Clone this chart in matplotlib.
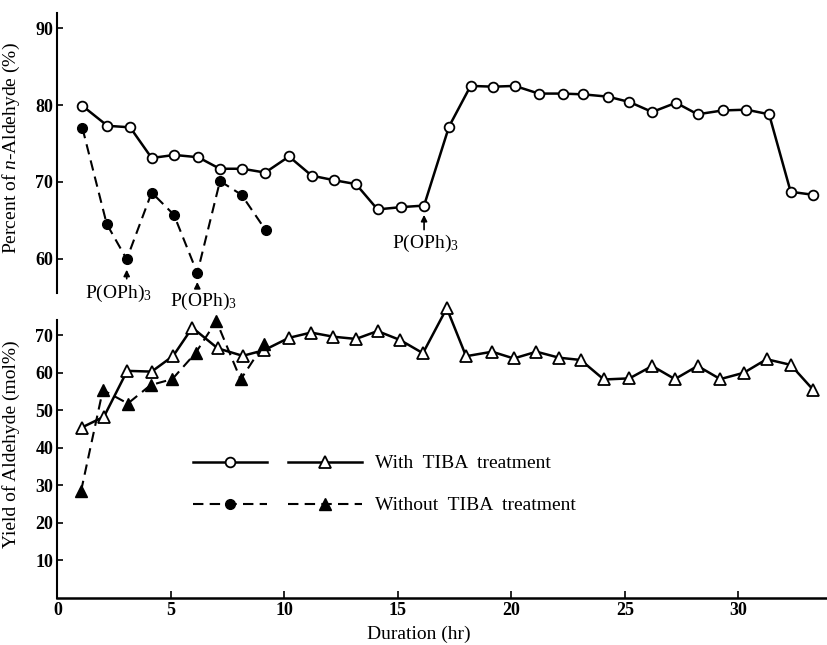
import matplotlib
matplotlib.use("Agg")
import matplotlib.pyplot as plt
from matplotlib.legend_handler import HandlerTuple

plt.rcParams['font.family'] = ['Liberation Serif', 'DejaVu Serif']
plt.rcParams['mathtext.fontset'] = 'custom'
plt.rcParams['mathtext.rm'] = 'Liberation Serif'
plt.rcParams['mathtext.it'] = 'Liberation Serif:italic'

# ---- data ----
# percent of n-aldehyde, with TIBA treatment (open circles)
hr_with = [1.1, 2.2, 3.2, 4.15, 5.15, 6.2, 7.15, 8.15, 9.15, 10.2, 11.2, 12.2, 13.15,
           14.1, 15.15, 16.15, 17.25, 18.2, 19.2, 20.15, 21.2, 22.25, 23.15, 24.25,
           25.2, 26.2, 27.25, 28.2, 29.3, 30.35, 31.35, 32.3, 33.3]
pct_with = [79.9, 77.3, 77.1, 73.1, 73.5, 73.2, 71.7, 71.7, 71.2, 73.3, 70.8, 70.2, 69.7,
            66.4, 66.7, 66.9, 77.2, 82.5, 82.4, 82.5, 81.5, 81.5, 81.4, 81.1,
            80.4, 79.1, 80.3, 78.8, 79.3, 79.4, 78.8, 68.7, 68.3]
# yield of aldehyde, with TIBA treatment (open triangles)
hr_with_y = [1.07, 2.05, 3.07, 4.15, 5.1, 5.94, 7.06, 8.16, 9.1, 10.2, 11.17, 12.15, 13.15,
             14.1, 15.1, 16.1, 17.15, 18.0, 19.15, 20.1, 21.1, 22.1, 23.05, 24.07,
             25.2, 26.2, 27.2, 28.2, 29.2, 30.24, 31.24, 32.3, 33.3]
yld_with = [45.4, 48.3, 60.5, 60.3, 64.5, 72.0, 66.5, 64.5, 66.0, 69.3, 70.7, 69.6, 69.0,
            71.1, 68.7, 65.2, 77.2, 64.4, 65.6, 63.8, 65.6, 64.0, 63.4, 58.2,
            58.5, 61.8, 58.3, 61.8, 58.3, 60.0, 63.6, 62.1, 55.4]

# without TIBA treatment (filled markers)
hr_wo = [1.1, 2.17, 3.05, 4.15, 5.13, 6.16, 7.16, 8.11, 9.17]
pct_wo = [77.0, 64.5, 59.9, 68.6, 65.7, 58.1, 70.1, 68.3, 63.7]
hr_wo_y = [1.04, 2.0, 3.1, 4.1, 5.06, 6.09, 7.0, 8.07, 9.1]
yld_wo = [28.5, 55.4, 51.8, 56.7, 58.3, 65.3, 73.8, 58.2, 67.7]

# P(OPh)3 additions: (hour, arrow head, arrow tail, text x, text y)
additions = [(3.05, 58.9, 57.0, 2.68, 55.45),
             (6.16, 57.3, 55.9, 6.42, 54.35),
             (16.15, 66.05, 63.4, 16.19, 62.0)]

fig = plt.figure(figsize=(8.28, 6.45), dpi=100)
ax1 = fig.add_axes([0.0694, 0.5457, 0.928, 0.4341])
ax2 = fig.add_axes([0.0694, 0.0729, 0.928, 0.4310], sharex=ax1)

solid = dict(color='black', lw=1.8, clip_on=False)
dashed = dict(color='black', lw=1.5, ls=(0, (5, 3)), clip_on=False)

c_open, = ax1.plot(hr_with, pct_with, marker='o', ms=7, mfc='white', mec='black', mew=1.3, **solid)
c_fill, = ax1.plot(hr_wo, pct_wo, marker='o', ms=7, mfc='black', mec='black', **dashed)
t_open, = ax2.plot(hr_with_y, yld_with, marker='^', ms=8, mfc='white', mec='black', mew=1.3, **solid)
t_fill, = ax2.plot(hr_wo_y, yld_wo, marker='^', ms=8, mfc='black', mec='black', **dashed)

for hx, head, tail, tx, ty in additions:
    ax1.annotate('', xy=(hx, head), xytext=(hx, tail),
                 arrowprops=dict(arrowstyle='-|>', color='black', lw=1.2, mutation_scale=9),
                 annotation_clip=False)
    ax1.text(tx, ty, r'P(OPh)$_3$', ha='center', va='center', fontsize=14, clip_on=False)

ax1.set_xlim(0, 33.85)
ax1.set_ylim(55.5, 92.0)
ax2.set_ylim(0, 74.05)

for ax in (ax1, ax2):
    ax.spines['top'].set_visible(False)
    ax.spines['right'].set_visible(False)
    ax.spines['left'].set_linewidth(1.5)
    ax.tick_params(axis='y', direction='in', length=4, width=1.2, pad=3, labelsize=13)
ax1.spines['bottom'].set_visible(False)
ax1.tick_params(axis='x', bottom=False, labelbottom=False)
ax2.spines['bottom'].set_linewidth(1.8)

ax1.set_yticks([60, 70, 80, 90])
ax2.set_yticks([10, 20, 30, 40, 50, 60, 70])
ax2.set_xticks([0, 5, 10, 15, 20, 25, 30])
ax2.tick_params(axis='x', direction='in', length=5, width=1.2, pad=3, labelsize=13)
for ax in (ax1, ax2):
    for lab in ax.get_yticklabels() + ax.get_xticklabels():
        lab.set_fontweight('bold')

ax1.set_ylabel(r'Percent of $\it{n}$-Aldehyde (%)', fontsize=14)
ax1.yaxis.set_label_coords(-0.046, 0.516)
ax2.set_ylabel('Yield of Aldehyde (mol%)', fontsize=14)
ax2.yaxis.set_label_coords(-0.049, 0.554)
ax2.set_xlabel('Duration (hr)', fontsize=14)
ax2.xaxis.set_label_coords(0.47, -0.10)

ax2.legend([(c_open, t_open), (c_fill, t_fill)],
           ['With  TIBA  treatment', 'Without  TIBA  treatment'],
           handler_map={tuple: HandlerTuple(ndivide=None, pad=1.1)},
           numpoints=1, handlelength=8.7, handletextpad=0.7, labelspacing=1.25,
           frameon=False, borderpad=0, borderaxespad=0, fontsize=14,
           loc='center left', bbox_to_anchor=(0.176, 0.408))

fig.savefig('out.png', dpi=100)
